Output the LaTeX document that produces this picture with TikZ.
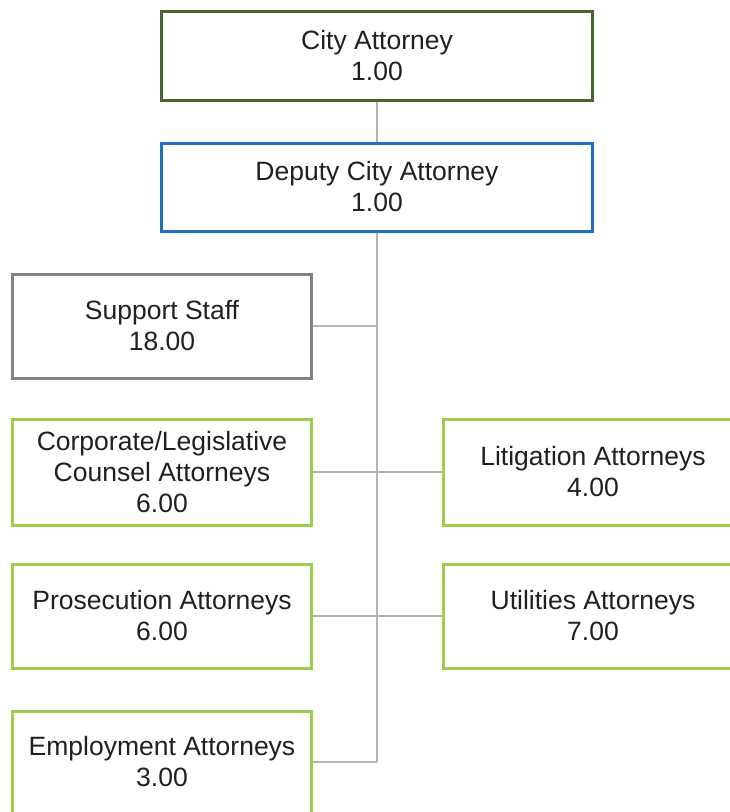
\documentclass[tikz,border=0pt]{standalone}
\usepackage{fontspec}
\setmainfont{Liberation Sans}
\definecolor{cadark}{HTML}{41692F}
\definecolor{dcablue}{HTML}{1F70BF}
\definecolor{ssgray}{HTML}{808285}
\definecolor{lgreen}{HTML}{9BCF4B}
\definecolor{linegray}{HTML}{B3B3B3}
\definecolor{txt}{HTML}{231F20}
\begin{document}
\begin{tikzpicture}[x=1pt,y=-1pt,
  box/.style={draw, line width=3pt, fill=white, align=center, inner sep=0pt,
    text=txt, font=\fontsize{26.5}{31}\selectfont, minimum width=431pt},
  small/.style={box, minimum width=299pt},
  conn/.style={draw=linegray, line width=2pt}]
\useasboundingbox (0,0) rectangle (730,812);
\node[box, draw=cadark, minimum height=89pt] (ca) at (377,56) {City Attorney\\1.00};
\node[box, draw=dcablue, minimum height=88pt] (dca) at (377,187) {Deputy City Attorney\\1.00};
\node[small, draw=ssgray, minimum height=104pt] (ss) at (162,326) {Support Staff\\18.00};
\node[small, draw=lgreen, minimum height=106pt] (corp) at (162,472) {Corporate/Legislative\\Counsel Attorneys\\6.00};
\node[small, draw=lgreen, minimum height=106pt] (lit) at (593,472) {Litigation Attorneys\\4.00};
\node[small, draw=lgreen, minimum height=104pt] (pros) at (162,616) {Prosecution Attorneys\\6.00};
\node[small, draw=lgreen, minimum height=104pt] (util) at (593,616) {Utilities Attorneys\\7.00};
\node[small, draw=lgreen, minimum height=102pt] (emp) at (162,762) {Employment Attorneys\\3.00};
\coordinate (tb) at (emp.east -| dca.south);
\path[conn] (ca.south) -- (dca.north);
\path[conn] (dca.south) -- (tb);
\path[conn] (ss.east) -- (ss.east -| dca.south);
\path[conn] (corp.east) -- (lit.west);
\path[conn] (pros.east) -- (util.west);
\path[conn] (emp.east) -- (tb);
\end{tikzpicture}
\end{document}
